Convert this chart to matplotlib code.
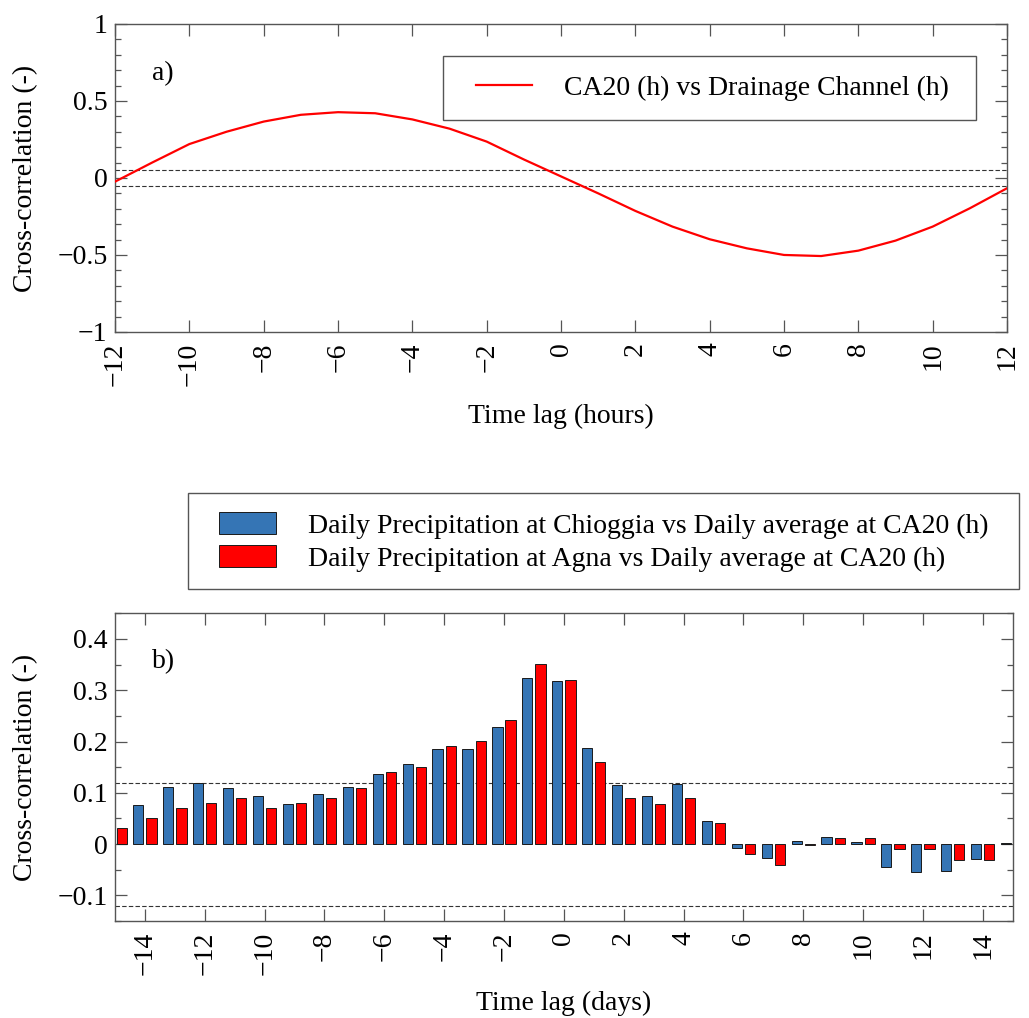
import numpy as np
import matplotlib
matplotlib.use('Agg')
import matplotlib.pyplot as plt
from matplotlib.patches import Rectangle
from matplotlib.ticker import MultipleLocator, FuncFormatter

plt.rcParams['font.family'] = ['Liberation Serif', 'DejaVu Serif']
plt.rcParams['font.size'] = 20
plt.rcParams['axes.unicode_minus'] = True

# ---------------- data ----------------
# Panel a: hourly cross-correlation
lag_hours = list(range(-12, 13))
cc_hours = [-0.024, 0.10, 0.22, 0.30, 0.366, 0.41, 0.427, 0.42, 0.38, 0.32,
            0.236, 0.12, 0.01, -0.10, -0.214, -0.316, -0.398, -0.457, -0.50,
            -0.507, -0.472, -0.407, -0.316, -0.197, -0.067]
conf_a = 0.05
label_a = "CA20 (h) vs Drainage Channel (h)"

# Panel b: daily cross-correlation
lag_days = list(range(-15, 16))
cc_chioggia = [np.nan, 0.076, 0.111, 0.119, 0.109, 0.094, 0.079, 0.098, 0.112,
               0.137, 0.156, 0.186, 0.186, 0.228, 0.323, 0.318, 0.187, 0.116,
               0.094, 0.118, 0.045, -0.008, -0.028, 0.0065, 0.014, 0.0046,
               -0.045, -0.055, -0.052, -0.029, 0.003]
cc_agna = [0.031, 0.051, 0.070, 0.080, 0.089, 0.070, 0.080, 0.089, 0.109,
           0.140, 0.151, 0.191, 0.2005, 0.242, 0.351, 0.320, 0.160, 0.089,
           0.079, 0.089, 0.041, -0.020, -0.040, -0.001, 0.011, 0.011,
           -0.010, -0.010, -0.031, -0.031, np.nan]
conf_b = 0.12
label_chioggia = "Daily Precipitation at Chioggia vs Daily average at CA20 (h)"
label_agna = "Daily Precipitation at Agna vs Daily average at CA20 (h)"

blue = '#3575B5'
red = '#FF0000'
spine_col = '#555555'


def fmt(v, p):
    if abs(v) < 1e-9:
        v = 0
    return ('%g' % v).replace('-', '\u2212')


def style(ax):
    for s in ax.spines.values():
        s.set_color(spine_col)
        s.set_linewidth(1.0)
    ax.tick_params(which='both', direction='in', top=True, right=True,
                   color=spine_col, width=0.9)
    ax.tick_params(which='major', length=8.6)
    ax.tick_params(which='minor', length=4.0)
    ax.tick_params(axis='x', labelrotation=90, pad=7.5)
    ax.tick_params(axis='y', pad=5.5)
    ax.xaxis.set_major_formatter(FuncFormatter(fmt))
    ax.yaxis.set_major_formatter(FuncFormatter(fmt))


fig = plt.figure(figsize=(10.29, 10.18), dpi=100)

# ---------------- panel a ----------------
axA = fig.add_axes([0.1118, 0.6739, 0.8668, 0.3026])
axA.axhline(conf_a, ls=(0, (4, 2)), color='#333333', lw=0.8, zorder=1)
axA.axhline(-conf_a, ls=(0, (4, 2)), color='#333333', lw=0.8, zorder=1)
lineA, = axA.plot(lag_hours, cc_hours, color=red, lw=1.6, zorder=3,
                  solid_joinstyle='round')
axA.set_xlim(-12, 12)
axA.set_ylim(-1, 1)
axA.set_xticks(list(range(-12, 13, 2)))
axA.set_yticks([-1, -0.5, 0, 0.5, 1])
axA.yaxis.set_minor_locator(MultipleLocator(0.1))
style(axA)
axA.set_ylabel("Cross-correlation (-)", va='center', ha='center')
axA.yaxis.set_label_coords(-0.0998, 0.5)
axA.set_xlabel("Time lag (hours)", va='center', ha='center')
axA.xaxis.set_label_coords(0.5, -0.273)
axA.text(0.041, 0.84, "a)", transform=axA.transAxes, ha='left', va='center')

axA.add_patch(Rectangle((0.3677, 0.688), 0.5975, 0.208, transform=axA.transAxes,
                        facecolor='white', edgecolor=spine_col, lw=1.0, zorder=4))
legA = axA.legend([lineA], [label_a], loc='center left',
                  bbox_to_anchor=(0.4047, 0.792), borderpad=0, borderaxespad=0,
                  handlelength=2.0, handletextpad=1.15, frameon=False)
legA.set_zorder(5)

# ---------------- panel b ----------------
axB = fig.add_axes([0.1118, 0.0953, 0.8723, 0.3022])
axB.axhline(conf_b, ls=(0, (4, 2)), color='#333333', lw=0.8, zorder=1)
axB.axhline(-conf_b, ls=(0, (4, 2)), color='#333333', lw=0.8, zorder=1)
x = np.array(lag_days, dtype=float)
barsC = axB.bar(x - 0.22, cc_chioggia, width=0.34, color=blue,
                edgecolor='#1a1a1a', lw=0.7, zorder=2)
barsA = axB.bar(x + 0.22, cc_agna, width=0.34, color=red,
                edgecolor='#1a1a1a', lw=0.7, zorder=2)
axB.set_xlim(-15, 15)
axB.set_ylim(-0.15, 0.45)
axB.set_xticks(list(range(-14, 15, 2)))
axB.set_yticks([-0.1, 0, 0.1, 0.2, 0.3, 0.4])
axB.yaxis.set_minor_locator(MultipleLocator(0.05))
style(axB)
axB.set_ylabel("Cross-correlation (-)", va='center', ha='center')
axB.yaxis.set_label_coords(-0.0992, 0.5)
axB.set_xlabel("Time lag (days)", va='center', ha='center')
axB.xaxis.set_label_coords(0.5, -0.2665)
axB.text(0.041, 0.842, "b)", transform=axB.transAxes, ha='left', va='center')

fig.add_artist(Rectangle((0.1824, 0.4214), 0.8082, 0.0940, transform=fig.transFigure,
                         facecolor='white', edgecolor=spine_col, lw=1.0))
fig.legend([barsC, barsA], [label_chioggia, label_agna], loc='center left',
           bbox_to_anchor=(219 / 1029, 1 - 541.9 / 1018), borderpad=0,
           borderaxespad=0, handlelength=2.05, handleheight=0.83,
           handletextpad=1.14, labelspacing=0.23, frameon=False)

fig.savefig('out.png', dpi=100)
